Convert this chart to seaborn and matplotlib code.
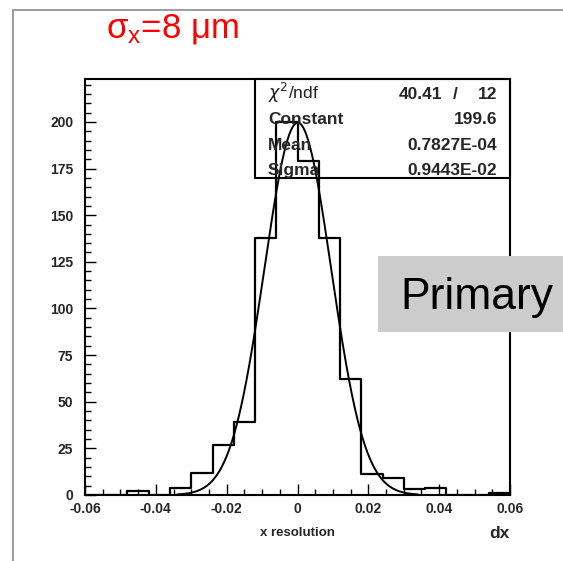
import numpy as np
import matplotlib
matplotlib.use("Agg")
import matplotlib.pyplot as plt
from matplotlib.patches import Rectangle
from matplotlib.lines import Line2D
from matplotlib.ticker import MultipleLocator
import seaborn as sns

# dx histogram: 20 bins of width 0.006 between -0.06 and 0.06
bin_edges = [-0.060, -0.054, -0.048, -0.042, -0.036, -0.030, -0.024, -0.018,
             -0.012, -0.006, 0.000, 0.006, 0.012, 0.018, 0.024, 0.030,
             0.036, 0.042, 0.048, 0.054, 0.060]
counts = [0, 0, 2, 0, 4, 12, 27, 39, 138, 200,
          179, 138, 62, 11, 9, 3, 4, 0, 0, 1]

# Gaussian fit results
fit_constant = 199.6
fit_mean = 0.7827e-4
fit_sigma = 0.9443e-2
fit_range = (-0.034, 0.034)
chi2 = 40.41
ndf = 12

x_ticks = [-0.06, -0.04, -0.02, 0.0, 0.02, 0.04, 0.06]
x_tick_labels = ["-0.06", "-0.04", "-0.02", "0", "0.02", "0.04", "0.06"]
y_ticks = [0, 25, 50, 75, 100, 125, 150, 175, 200]

W, H = 563, 561
FONT = "Liberation Sans"

sns.set_style("ticks")
plt.rcParams["font.family"] = [FONT, "DejaVu Sans"]


def fx(px):
    return px / W


def fy(py):
    return 1 - py / H


fig = plt.figure(figsize=(W / 100, H / 100), dpi=100)
fig.patch.set_facecolor("white")
ax_top, ax_bottom = 79, 495
ax = fig.add_axes([fx(85), fy(ax_bottom), 425 / W, (ax_bottom - ax_top) / H])
ax.set_facecolor("white")

centers = [(a + b) / 2 for a, b in zip(bin_edges[:-1], bin_edges[1:])]
sns.histplot(x=centers, weights=counts, bins=bin_edges, element="step",
             fill=False, color="black", linewidth=1.6, ax=ax)

xs = np.linspace(fit_range[0], fit_range[1], 400)
ys = fit_constant * np.exp(-0.5 * ((xs - fit_mean) / fit_sigma) ** 2)
sns.lineplot(x=xs, y=ys, color="black", linewidth=1.4, ax=ax)

ax.set_xlim(-0.06, 0.06)
ax.set_ylim(0, 223)
ax.set_xlabel("")
ax.set_ylabel("")
ax.set_xticks(x_ticks)
ax.set_xticklabels(x_tick_labels, fontsize=10, fontweight="bold")
ax.set_yticks(y_ticks)
ax.set_yticklabels([str(v) for v in y_ticks], fontsize=10, fontweight="bold")
ax.xaxis.set_minor_locator(MultipleLocator(0.005))
ax.yaxis.set_minor_locator(MultipleLocator(5))
ax.tick_params(which="major", direction="in", length=8, width=1,
               top=False, right=False, color="black")
ax.tick_params(which="minor", direction="in", length=4, width=1,
               top=False, right=False, color="black")
ax.tick_params(axis="x", pad=5)
ax.tick_params(axis="y", pad=8.5)
for s in ax.spines.values():
    s.set_visible(True)
    s.set_linewidth(1.5)
    s.set_color("black")

# statistics box (top-right corner of the frame)
box_left, box_bottom = 255, 178.5
span_h = ax_bottom - ax_top
ax.add_patch(Rectangle(((box_left - 85) / 425, (ax_bottom - box_bottom) / span_h),
                       (510 - box_left) / 425, (box_bottom - ax_top) / span_h,
                       transform=ax.transAxes, fill=False,
                       edgecolor="black", linewidth=1.5, zorder=4,
                       clip_on=False))
fs = 12.5
fig.text(fx(268), fy(99), r"$\chi^2$/ndf", fontsize=fs, va="baseline",
         ha="left", color="#222222")
fig.text(fx(442), fy(99), f"{chi2:.2f}", fontsize=fs, fontweight="bold",
         va="baseline", ha="right")
fig.text(fx(455), fy(99), "/", fontsize=fs, fontweight="bold",
         va="baseline", ha="center")
fig.text(fx(497), fy(99), f"{ndf}", fontsize=fs, fontweight="bold",
         va="baseline", ha="right")
rows = [("Constant", f"{fit_constant:.1f}", 124.5),
        ("Mean", "0.7827E-04", 150.5),
        ("Sigma", "0.9443E-02", 175)]
for name, val, yb in rows:
    fig.text(fx(268), fy(yb), name, fontsize=fs, fontweight="bold",
             va="baseline", ha="left")
    fig.text(fx(497), fy(yb), val, fontsize=fs, fontweight="bold",
             va="baseline", ha="right")

# axis titles
fig.text(fx(297), fy(533), "x resolution", fontsize=9.5, fontweight="bold",
         ha="center", va="center")
fig.text(fx(510), fy(533), "dx", fontsize=12.5, fontweight="bold",
         ha="right", va="center")

# outer frame
fig.add_artist(Line2D([fx(12.5), fx(12.5)], [0, fy(9.5)], color="#8c8c8c",
                      linewidth=1.2, transform=fig.transFigure))
fig.add_artist(Line2D([fx(12.5), 1], [fy(9.5), fy(9.5)], color="#8c8c8c",
                      linewidth=1.2, transform=fig.transFigure))

# heading
fig.text(fx(106), fy(37), r"$\mathregular{\sigma_x}$=8 μm", color="red",
         fontsize=25, va="baseline", ha="left")

# label box
fig.add_artist(Rectangle((fx(378), fy(331.5)), 1, 75.5 / H,
                         transform=fig.transFigure, facecolor="#cccccc",
                         edgecolor="none", zorder=5))
fig.text(fx(400), fy(308.5), "Primary", fontsize=32, color="black",
         va="baseline", ha="left", zorder=6)

fig.savefig("out.png", dpi=100, facecolor="white")
